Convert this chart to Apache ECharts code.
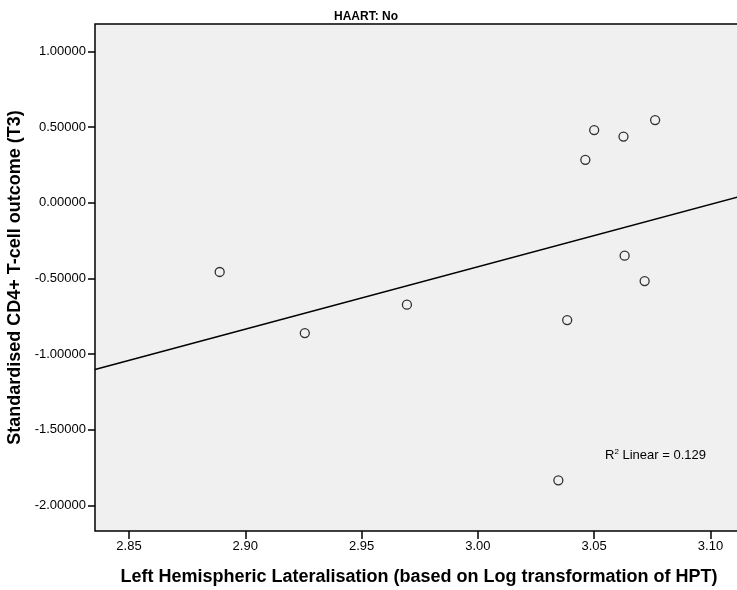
<!DOCTYPE html>
<html>
<head>
<meta charset="utf-8">
<script src="https://cdn.jsdelivr.net/npm/echarts@6/dist/echarts.min.js"></script>
<style>html,body{margin:0;padding:0;background:#fff;}#c{width:737px;height:590px;}</style>
</head>
<body>
<div id="c"></div>
<script>
const xValues = [2.8890, 2.9256, 2.9695, 3.0384, 3.0462, 3.0500, 3.0626, 3.0762, 3.0631, 3.0717, 3.0346];
const yValues = [-0.458, -0.862, -0.674, -0.776, 0.283, 0.480, 0.437, 0.546, -0.350, -0.518, -1.835];
const xTicks = [2.85, 2.90, 2.95, 3.00, 3.05, 3.10];
const yTicks = [-2.0, -1.5, -1.0, -0.5, 0.0, 0.5, 1.0];
const xMin = 2.8354, xMax = 3.12;
const yMin = -2.170, yMax = 1.181;

// least-squares fit line
const n = xValues.length;
const mx = xValues.reduce((a, b) => a + b, 0) / n;
const my = yValues.reduce((a, b) => a + b, 0) / n;
let sxy = 0, sxx = 0, syy = 0;
for (let i = 0; i < n; i++) {
  sxy += (xValues[i] - mx) * (yValues[i] - my);
  sxx += (xValues[i] - mx) ** 2;
  syy += (yValues[i] - my) ** 2;
}
const slope = sxy / sxx;
const icpt = my - slope * mx;
const fitLine = [[xMin, icpt + slope * xMin], [xMax, icpt + slope * xMax]];
const r2 = (sxy * sxy) / (sxx * syy);

const font = 'Liberation Sans, Arial, sans-serif';
const chart = echarts.init(document.getElementById('c'));
chart.setOption({
  backgroundColor: '#ffffff',
  animation: false,
  title: {
    text: 'HAART: No', left: 361, top: 6, textAlign: 'center',
    textStyle: { fontFamily: font, fontSize: 12, fontWeight: 'bold', color: '#000' }
  },
  grid: {
    left: 95, top: 24, width: 662, bottom: 59,
    outerBoundsMode: 'none', containLabel: false,
    show: true, backgroundColor: '#F0F0F0', borderColor: '#000', borderWidth: 1.5
  },
  xAxis: {
    type: 'value', min: xMin, max: xMax,
    splitLine: { show: false },
    axisLine: { show: false, onZero: false },
    axisTick: { show: true, length: 8, customValues: xTicks, lineStyle: { color: '#000', width: 1.5 } },
    axisLabel: { customValues: xTicks, margin: 9, formatter: v => v.toFixed(2), fontFamily: font, fontSize: 13, color: '#000' },
    name: 'Left Hemispheric Lateralisation (based on Log transformation of HPT)',
    nameLocation: 'middle', nameGap: 37,
    nameTextStyle: { fontFamily: font, fontSize: 18, fontWeight: 'bold', color: '#000', padding: [0, 14, 0, 0] }
  },
  yAxis: {
    type: 'value', min: yMin, max: yMax,
    splitLine: { show: false },
    axisLine: { show: false, onZero: false },
    axisTick: { show: true, length: 7, customValues: yTicks, lineStyle: { color: '#000', width: 1.5 } },
    axisLabel: { customValues: yTicks, margin: 9, formatter: v => v.toFixed(5), fontFamily: font, fontSize: 13, color: '#000' },
    name: 'Standardised CD4+ T-cell outcome (T3)',
    nameLocation: 'middle', nameGap: 65, nameRotate: 90,
    nameTextStyle: { fontFamily: font, fontSize: 18, fontWeight: 'bold', color: '#000' }
  },
  graphic: [{
    type: 'text', left: 605, top: 448,
    style: {
      text: '{a|R}{s|2}{a| Linear = ' + r2.toFixed(3) + '}',
      rich: {
        a: { fontFamily: font, fontSize: 13, fill: '#000' },
        s: { fontFamily: font, fontSize: 8, fill: '#000', verticalAlign: 'top', padding: [0, 0, 6, 0] }
      }
    }
  }],
  series: [
    {
      type: 'line', data: fitLine, symbol: 'none', clip: true,
      lineStyle: { color: '#000', width: 1.5 }, z: 2
    },
    {
      type: 'scatter', data: xValues.map((x, i) => [x, yValues[i]]),
      symbol: 'circle', symbolSize: 9,
      itemStyle: { color: 'rgba(0,0,0,0)', borderColor: '#000', borderWidth: 1.3 }, z: 3
    }
  ]
});
</script>
</body>
</html>
